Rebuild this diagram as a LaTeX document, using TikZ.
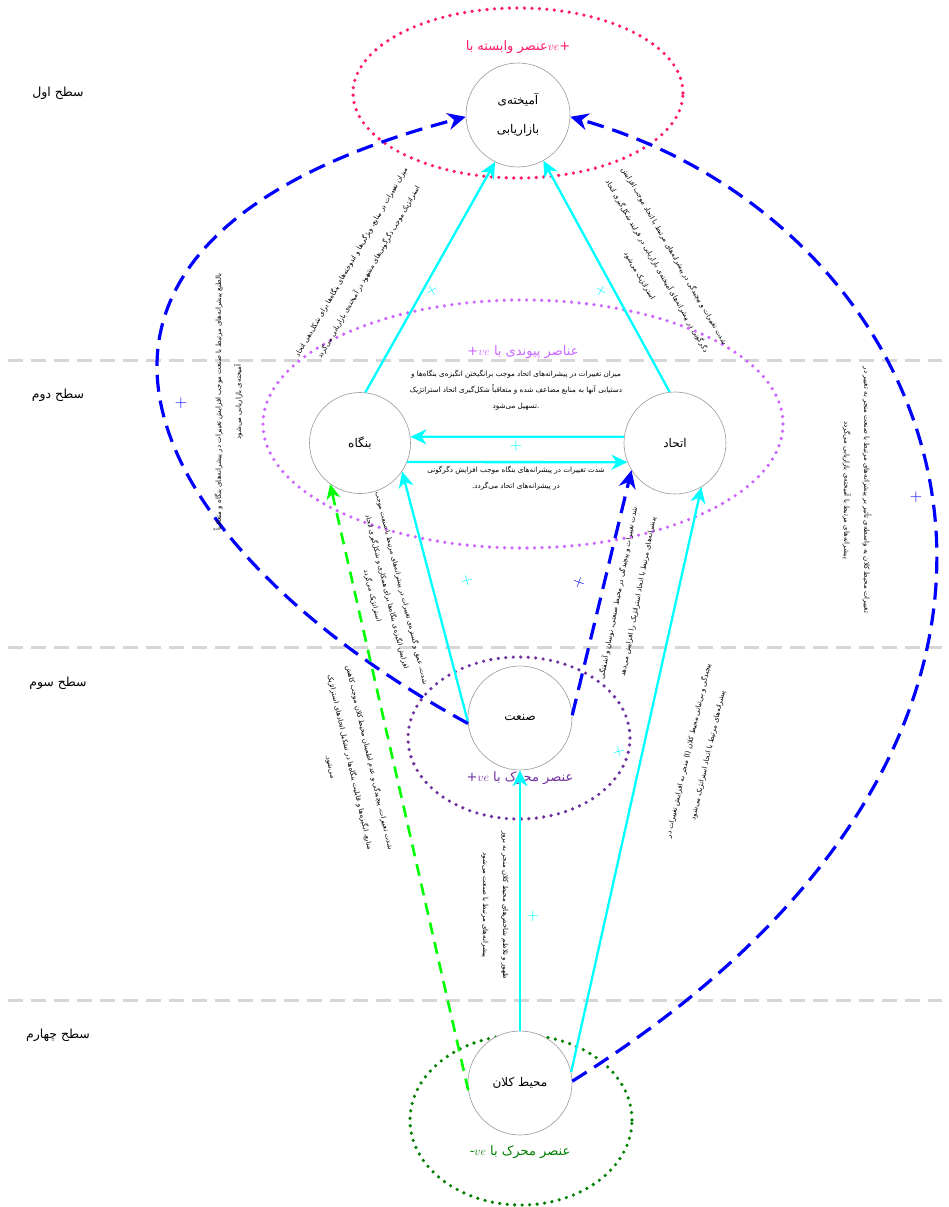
\documentclass[tikz,border=0pt]{standalone}
\usepackage{fontspec}
\usetikzlibrary{arrows.meta}
\newfontfamily\fa[Script=Arabic]{DejaVu Sans}
\TeXXeTstate=1
\newcommand{\fx}[1]{\beginR #1\endR}
\definecolor{cyanc}{HTML}{00FFFF}
\definecolor{bluec}{HTML}{0000FF}
\definecolor{greenc}{HTML}{00FF00}
\definecolor{pinkc}{HTML}{FF1A66}
\definecolor{violc}{HTML}{CC66FF}
\definecolor{purpc}{HTML}{7030A0}
\definecolor{dgreen}{HTML}{008000}
\definecolor{lvl}{HTML}{D6D6D6}
\begin{document}
\begin{tikzpicture}[x=1pt,y=-1pt,
  circ/.style={circle,draw=gray!80,line width=0.6pt,fill=white,minimum size=104pt,inner sep=0pt,align=center,font=\fa\fontsize{12}{29}\selectfont},
  lvltext/.style={font=\fa\fontsize{12.5}{14}\selectfont},
  small/.style={align=center,inner sep=0pt,font=\fa\fontsize{7.2}{16}\selectfont},
  rsmall/.style={align=center,inner sep=0pt,font=\fa\fontsize{7}{20}\selectfont},
  elabel/.style={font=\fa\fontsize{13}{15}\selectfont},
  plus/.style={font=\fontsize{17}{17}\selectfont,inner sep=0pt},
  cyanarrow/.style={draw=cyanc,line width=2.3pt,-{Stealth[length=16pt,width=15pt,inset=5pt]}},
  bluedash/.style={draw=bluec,line width=3.2pt,dash pattern=on 17pt off 9pt,-{Stealth[length=18pt,width=17pt,inset=6pt]}},
  greendash/.style={draw=greenc,line width=2.6pt,dash pattern=on 12pt off 8pt,-{Stealth[length=15pt,width=14pt,inset=5pt]}},
  dotell/.style={line width=3.6pt,dash pattern=on 0pt off 7.5pt,line cap=round},
  lvlline/.style={draw=lvl,line width=3pt,dash pattern=on 15pt off 8pt}
]
\useasboundingbox (0,0) rectangle (949,1207);
\fill[white] (0,0) rectangle (949,1207);

% level lines
\draw[lvlline] (8,360) -- (942,360);
\draw[lvlline] (8,647) -- (942,647);
\draw[lvlline] (8,1000) -- (942,1000);

% level labels
\node[lvltext] (l1) at (58,93) {\fx{سطح اول}};
\node[lvltext] (l2) at (58,395) {\fx{سطح دوم}};
\node[lvltext] (l3) at (58,683) {\fx{سطح سوم}};
\node[lvltext] (l4) at (58,1035) {\fx{سطح چهارم}};

% ellipses
\draw[dotell,draw=pinkc] (518,93) ellipse [x radius=165pt, y radius=85pt];
\draw[dotell,draw=violc] (523,424) ellipse [x radius=260pt, y radius=124pt];
\draw[dotell,draw=purpc] (519,738) ellipse [x radius=111pt, y radius=81pt];
\draw[dotell,draw=dgreen] (521,1120) ellipse [x radius=111pt, y radius=85pt];

% ellipse labels
\node[elabel,text=pinkc] (e1) at (518,47) {\fx{+\beginL$ve$\endL عنصر وابسته با}};
\node[elabel,text=violc] (e2) at (523,352) {\fx{عناصر پیوندی با \beginL+$ve$\endL}};
\node[elabel,text=purpc] (e3) at (520,778) {\fx{عنصر محرک با \beginL+$ve$\endL}};
\node[elabel,text=dgreen] (e4) at (520,1152) {\fx{عنصر محرک با \beginL-$ve$\endL}};

% main nodes
\node[circ] (mix) at (518,115) {\fx{آمیخته‌ی}\\\fx{بازاریابی}};
\node[circ,minimum size=101pt] (bong) at (360,443) {\fx{بنگاه}};
\node[circ,minimum size=102pt] (ett) at (675,443) {\fx{اتحاد}};
\node[circ] (san) at (520,718) {\fx{صنعت}};
\node[circ] (kal) at (520,1083) {\fx{محیط کلان}};

% cyan connectors
\draw[cyanarrow] (bong.84) -- (mix.244);
\draw[cyanarrow] (ett.96) -- (mix.299);
\draw[cyanarrow] (ett.173) -- (bong.7);
\draw[cyanarrow] (bong.338) -- (ett.202);
\draw[cyanarrow] (san.184) -- (bong.326);
\draw[cyanarrow] (kal.north) -- (san.south);
\draw[cyanarrow] (kal.12) -- (ett.301);

% blue dashed connectors
\draw[bluedash] (san.186) .. controls (140,545) and (-20,245) .. (mix.182);
\draw[bluedash] (san.3) -- (ett.212);
\draw[bluedash] (kal.2) .. controls (1150,720) and (955,225) .. (mix.358);

% green dashed
\draw[greendash] (kal.188) -- (bong.234);

% plus signs
\node[plus,text=cyanc,rotate=30] (p1) at (432,291) {+};
\node[plus,text=cyanc,rotate=-30] (p2) at (601,291) {+};
\node[plus,text=cyanc] (p3) at (516,446) {+};
\node[plus,text=bluec] (p4) at (181,403) {+};
\node[plus,text=cyanc,rotate=15] (p5) at (467,581) {+};
\node[plus,text=bluec,rotate=-20] (p6) at (579,583) {+};
\node[plus,text=cyanc,rotate=15] (p7) at (619,752) {+};
\node[plus,text=cyanc] (p8) at (533,916) {+};
\node[plus,text=bluec] (p9) at (916,497) {+};

% texts
\node[rsmall,rotate=60] (t1) at (360,267) {\fx{میزان تغییرات در منابع، ویژگی‌ها و اندوخته‌های بنگاه‌ها برای شکل‌دهی اتحاد}\\\fx{استراتژیک موجب دگرگونی‌های مشهود در آمیخته‌ی بازاریابی می‌گردد}};
\node[rsmall,rotate=-60] (t2) at (657,266) {\fx{شدت تغییرات و پیچیدگی در پیشرانه‌های مرتبط با اتحاد موجب افزایش}\\\fx{دگرگونی در پیشرانه‌های آمیخته‌ی بازاریابی در فرایند شکل‌گیری اتحاد}\\\fx{استراتژیک می‌شود}};
\node[small] (t3) at (516,390) {\fx{میزان تغییرات در پیشرانه‌های اتحاد موجب برانگیختن انگیزه‌ی بنگاه‌ها و}\\\fx{دستیابی آنها به منابع مضاعف شده و متعاقباً شکل‌گیری اتحاد استراتژیک}\\\fx{.تسهیل می‌شود}};
\node[small] (t4) at (516,478) {\fx{شدت تغییرات در پیشرانه‌های بنگاه موجب افزایش دگرگونی}\\\fx{در پیشرانه‌های اتحاد می‌گردد.}};
\node[rsmall,rotate=90] (t5) at (228,402) {\fx{بالطبع پیشرانه‌های مرتبط با صنعت موجب افزایش تغییرات در پیشرانه‌های بنگاه و متعاقباً}\\\fx{آمیخته‌ی بازاریابی می‌شود}};
\node[rsmall,rotate=-90] (t6) at (857,490) {\fx{تغییرات محیط کلان به واسطه‌ی تأثیر بر پیشرانه‌های مرتبط با صنعت منجر به تغییر در}\\\fx{پیشرانه‌های مرتبط با آمیخته‌ی بازاریابی می‌گردد}};
\node[small,rotate=-76,font=\fa\fontsize{6.8}{15}\selectfont] (t7) at (387,592) {\fx{شدت، عمق و گستره‌ی تغییرات در پیشرانه‌های مرتبط با صنعت موجب}\\\fx{افزایش انگیزه‌ی بنگاه‌ها برای همکاری و شکل‌گیری اتحاد}\\\fx{استراتژیک می‌گردد}};
\node[rsmall,rotate=79] (t8) at (628,595) {\fx{شدت تغییرات و پیچیدگی در محیط صنعتی، نوسان و آشفتگی}\\\fx{پیشرانه‌های مرتبط با اتحاد استراتژیک را افزایش می‌دهد}};
\node[rsmall,rotate=-77] (t9) at (350,762) {\fx{شدت تغییرات، پیچیدگی و عدم اطمینان محیط کلان موجب کاهش}\\\fx{منابع، انگیزه‌ها و قابلیت بنگاه‌ها در تشکیل اتحادهای استراتژیک}\\\fx{می‌شود.}};
\node[rsmall,rotate=-90] (t10) at (495,905) {\fx{ظهور و تلاطم شاخص‌های محیط کلان منجر به بروز}\\\fx{پیشرانه‌های مرتبط با صنعت می‌شود}};
\node[rsmall,rotate=77] (t11) at (698,753) {\fx{پیچیدگی و بی‌ثباتی محیط کلان \beginL(I)\endL{} منجر به افزایش تغییرات در}\\\fx{پیشرانه‌های مرتبط با اتحاد استراتژیک می‌شود}};
\end{tikzpicture}
\end{document}
